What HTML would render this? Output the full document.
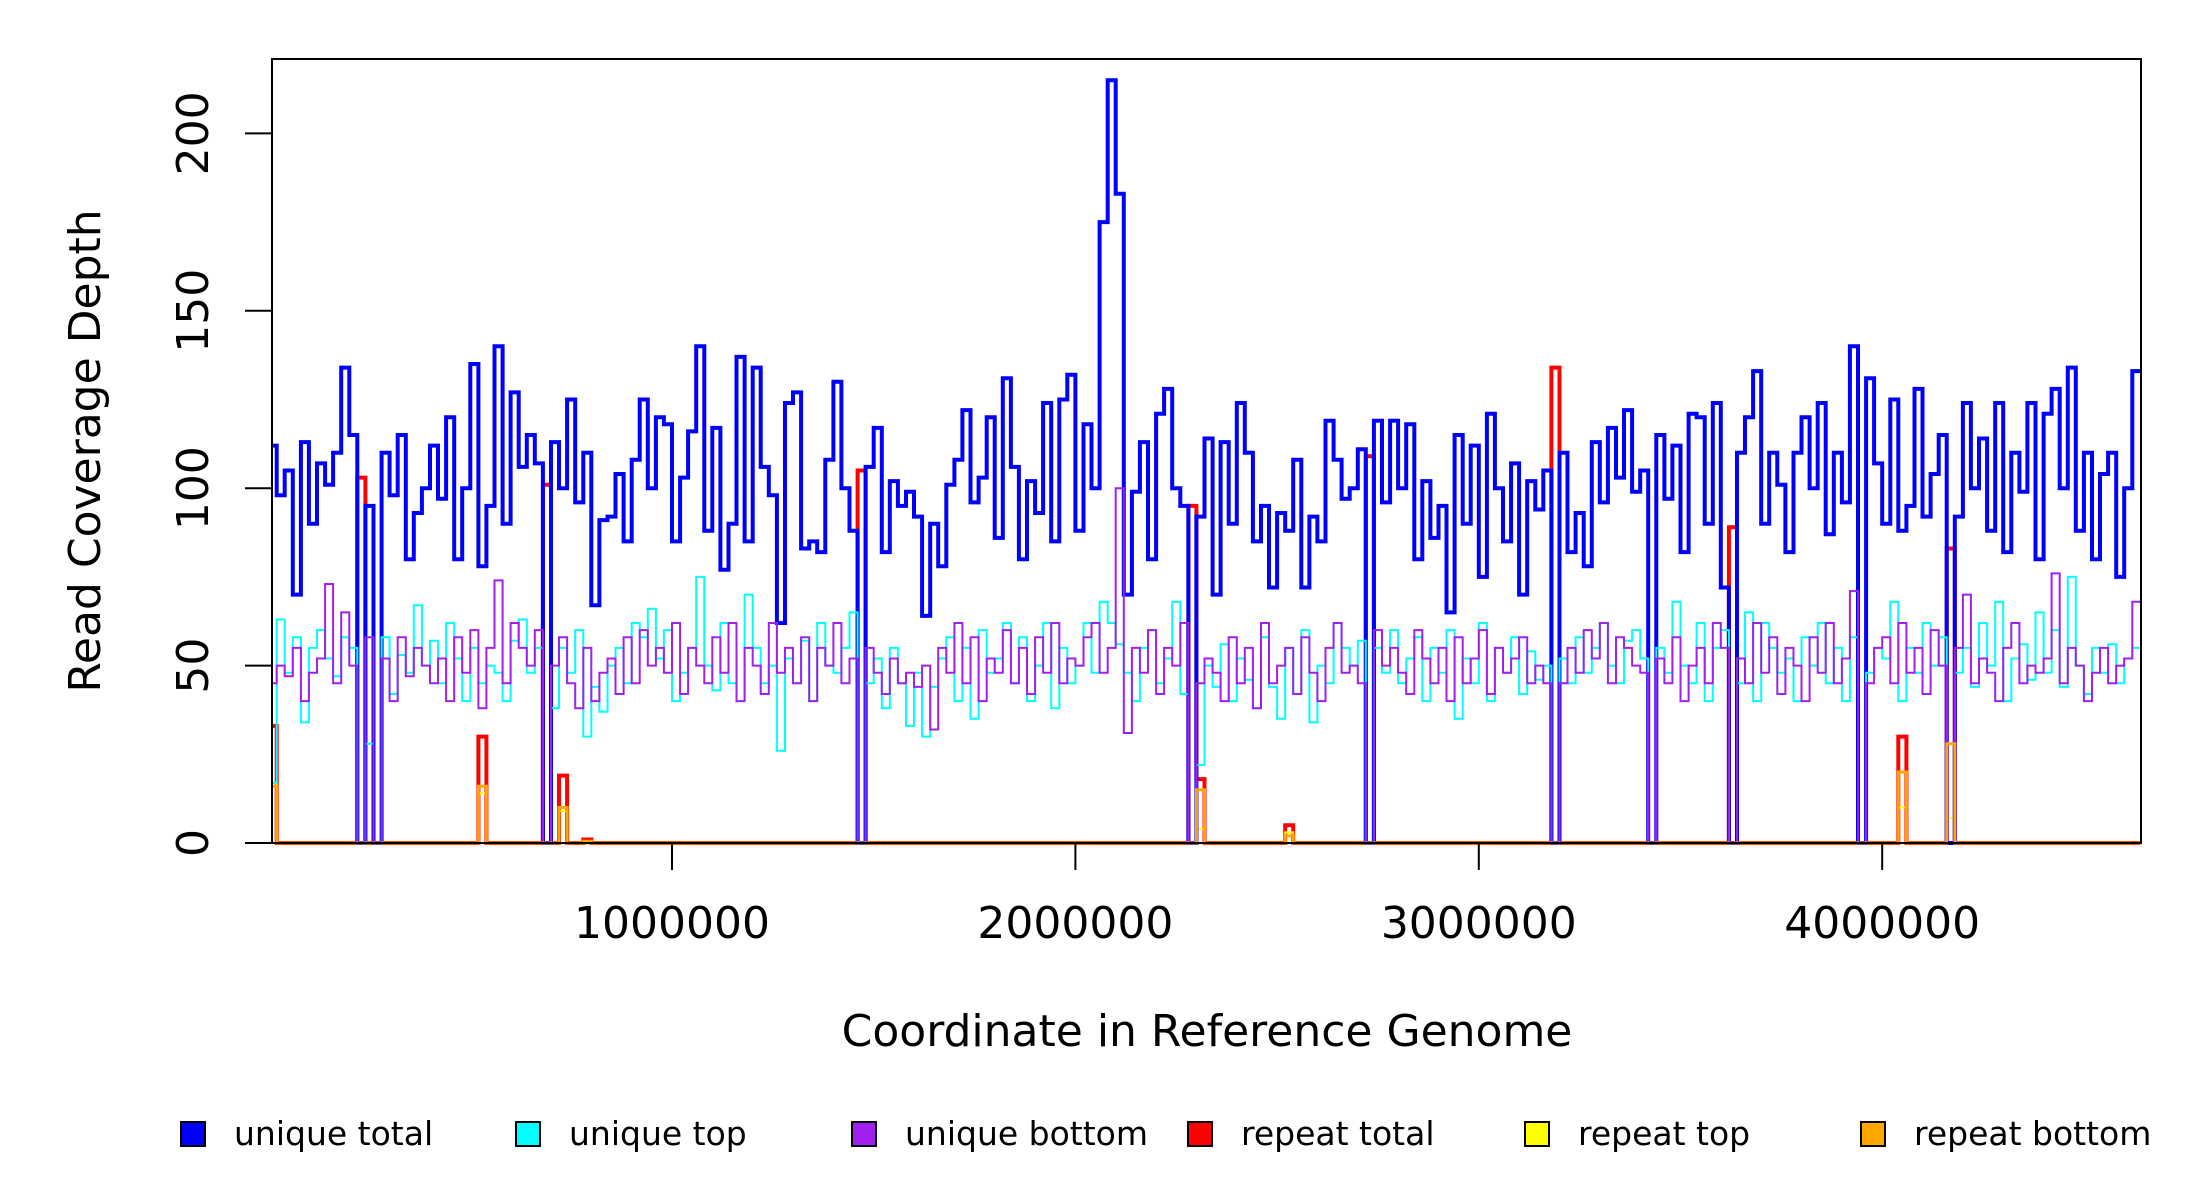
<!DOCTYPE html>
<html><head><meta charset="utf-8"><style>
html,body{margin:0;padding:0;background:#fff;}
svg{display:block;font-family:"DejaVu Sans","Liberation Sans",sans-serif;}
</style></head><body>
<svg id="chart" width="2200" height="1200" viewBox="0 0 2200 1200" xmlns="http://www.w3.org/2000/svg">
<defs><clipPath id="plotclip"><rect x="272" y="58" width="1869" height="787"/></clipPath></defs>
<g id="series" clip-path="url(#plotclip)"></g>
<rect x="272" y="59" width="1869" height="784" fill="none" stroke="#000" stroke-width="2"/>
<g id="yaxis"></g>
<g id="xaxis"></g>
<text x="0" y="0" transform="translate(100,451) rotate(-90)" text-anchor="middle" font-size="44">Read Coverage Depth</text>
<text x="1207" y="1046" text-anchor="middle" font-size="44">Coordinate in Reference Genome</text>
<g id="legend"></g>
</svg>
<script>
const binSize = 20000;
const yTicks = [0, 50, 100, 150, 200];
const xTicks = [1000000, 2000000, 3000000, 4000000];
const xTickLabels = ["1000000", "2000000", "3000000", "4000000"];
const uniqueTotal = [112,98,105,70,113,90,107,101,110,134,115,0,95,0,110,98,115,80,93,100,
112,97,120,80,100,135,78,95,140,90,127,106,115,107,0,113,100,125,96,110,
67,91,92,104,85,108,125,100,120,118,85,103,116,140,88,117,77,90,137,85,
134,106,98,62,124,127,83,85,82,108,130,100,88,0,106,117,82,102,95,99,
92,64,90,78,101,108,122,96,103,120,86,131,106,80,102,93,124,85,125,132,
88,118,100,175,215,183,70,99,113,80,121,128,100,95,0,92,114,70,113,90,
124,110,85,95,72,93,88,108,72,92,85,119,108,97,100,111,0,119,96,119,
100,118,80,102,86,95,65,115,90,112,75,121,100,85,107,70,102,94,105,0,
110,82,93,78,113,96,117,103,122,99,105,0,115,97,112,82,121,120,90,124,
72,0,110,120,133,90,110,101,82,110,120,100,124,87,110,96,140,0,131,107,
90,125,88,95,128,92,104,115,0,92,124,100,114,88,124,82,110,99,124,80,
121,128,100,134,88,110,80,104,110,75,100,133];
const uniqueTop = [17,63,48,58,34,55,60,52,47,58,55,0,28,0,58,42,53,48,67,50,
57,45,62,52,40,55,45,50,48,40,57,63,48,55,0,38,55,48,60,30,
44,37,50,55,45,62,58,66,52,60,40,48,55,75,50,43,62,45,40,70,
55,45,50,26,52,45,57,40,62,50,48,55,65,0,45,52,38,55,45,33,
48,30,44,52,58,40,55,35,60,48,52,62,45,58,40,50,62,38,55,45,
50,62,48,68,62,56,48,40,55,60,45,52,68,42,0,22,50,44,56,40,
52,46,38,58,44,35,55,42,60,34,50,45,62,55,50,57,0,55,48,60,
45,52,58,40,55,48,60,35,52,45,62,40,55,48,58,42,54,46,50,0,
52,45,58,48,55,62,50,45,57,60,52,0,55,48,68,50,45,62,40,55,
60,0,45,65,40,62,55,48,52,40,58,50,62,45,55,40,58,0,48,55,
52,68,40,55,48,62,50,58,0,48,55,44,62,50,68,40,52,56,46,65,
48,60,44,75,50,42,55,48,56,45,52,55];
const uniqueBottom = [45,50,47,55,40,48,52,73,45,65,50,0,58,0,52,40,58,47,55,50,
45,52,40,58,48,60,38,55,74,45,62,55,50,60,0,50,58,45,38,55,
40,48,52,42,58,45,60,50,55,48,62,42,55,50,45,58,48,62,40,55,
50,42,62,48,55,45,58,40,55,50,62,45,52,0,55,48,42,52,45,48,
44,50,32,55,48,62,45,58,40,52,48,60,45,55,42,58,48,62,45,52,
50,58,62,48,55,100,31,55,48,60,42,55,50,62,0,45,52,48,40,58,
45,55,38,62,45,50,55,42,58,48,40,55,62,48,50,45,0,60,50,55,
48,42,60,52,45,55,40,58,45,52,60,42,55,48,52,58,45,50,45,0,
45,55,48,60,52,62,45,58,55,50,48,0,52,45,58,40,50,55,45,62,
55,0,52,45,62,48,58,42,55,50,40,58,48,62,45,52,71,0,45,55,
58,45,62,48,55,42,60,50,0,55,70,45,52,48,40,55,62,45,50,48,
52,76,45,55,50,40,48,55,45,50,52,68];
const repeatBins = [0,11,26,34,36,39,73,114,115,126,136,159,181,202,208];
const repeatTotal = [33,103,30,101,19,1,105,95,18,5,109,134,89,30,83];
const repeatTop = [17,0,14,0,9,0.5,0,0,4,3,0,0,0,10,7];
const repeatBottom = [16,0,16,0,10,0.5,0,0,15,2,0,0,0,20,28];

const NS = "http://www.w3.org/2000/svg";
const X0 = 268.6, PXPERBP = 403.4e-6, Y0 = 843, PXPERUNIT = 3.548;
function xScale(g){ return X0 + g * PXPERBP; }
function yScale(v){ return Y0 - v * PXPERUNIT; }
function expand(vals){
  const out = new Array(uniqueTotal.length).fill(0);
  repeatBins.forEach((b,i)=>{ out[b] = vals[i]; });
  return out;
}
function stepPath(vals){
  let d = "M" + xScale(0).toFixed(1) + "," + yScale(vals[0]).toFixed(1);
  for (let i = 0; i < vals.length; i++){
    const xe = xScale((i+1)*binSize);
    d += "H" + xe.toFixed(1);
    if (i+1 < vals.length) d += "V" + yScale(vals[i+1]).toFixed(1);
  }
  return d;
}
const seriesLayer = document.getElementById("series");
function addSeries(vals, color, width, name){
  const p = document.createElementNS(NS, "path");
  p.setAttribute("d", stepPath(vals));
  p.setAttribute("fill", "none");
  p.setAttribute("stroke", color);
  p.setAttribute("stroke-width", width);
  p.setAttribute("stroke-linejoin", "miter");
  
  
  seriesLayer.appendChild(p);
}
addSeries(expand(repeatTotal), "#ff0000", 4, "repeat-total-line");
addSeries(expand(repeatTop), "#ffff00", 2, "repeat-top-line");
addSeries(uniqueTotal, "#0000ff", 4, "unique-total-line");
addSeries(uniqueTop, "#00ffff", 2, "unique-top-line");
addSeries(uniqueBottom, "#a020f0", 2, "unique-bottom-line");
addSeries(expand(repeatBottom), "#ffa500", 3, "repeat-bottom-line");

const yAxis = document.getElementById("yaxis");
yTicks.forEach(v=>{
  const y = yScale(v);
  const l = document.createElementNS(NS, "line");
  l.setAttribute("x1", 245); l.setAttribute("x2", 272);
  l.setAttribute("y1", y); l.setAttribute("y2", y);
  l.setAttribute("stroke", "#000"); l.setAttribute("stroke-width", 2);
  
  
  yAxis.appendChild(l);
  const t = document.createElementNS(NS, "text");
  t.setAttribute("transform", "translate(208," + y + ") rotate(-90)");
  t.setAttribute("text-anchor", "middle");
  t.setAttribute("font-size", "44");
  t.textContent = String(v);
  
  
  yAxis.appendChild(t);
});
const xAxis = document.getElementById("xaxis");
xTicks.forEach((g,i)=>{
  const x = xScale(g);
  const l = document.createElementNS(NS, "line");
  l.setAttribute("x1", x); l.setAttribute("x2", x);
  l.setAttribute("y1", 843); l.setAttribute("y2", 870);
  l.setAttribute("stroke", "#000"); l.setAttribute("stroke-width", 2);
  
  
  xAxis.appendChild(l);
  const t = document.createElementNS(NS, "text");
  t.setAttribute("x", x); t.setAttribute("y", 938);
  t.setAttribute("text-anchor", "middle");
  t.setAttribute("font-size", "44");
  t.textContent = xTickLabels[i];
  
  
  xAxis.appendChild(t);
});
const legendLabels = ["unique total","unique top","unique bottom","repeat total","repeat top","repeat bottom"];
const legendColors = ["#0000ff","#00ffff","#a020f0","#ff0000","#ffff00","#ffa500"];
const legendX = [181,516,852,1188,1525,1861];
const legend = document.getElementById("legend");
legendLabels.forEach((lab,i)=>{
  const r = document.createElementNS(NS, "rect");
  r.setAttribute("x", legendX[i]); r.setAttribute("y", 1122);
  r.setAttribute("width", 24); r.setAttribute("height", 24);
  r.setAttribute("fill", legendColors[i]); r.setAttribute("stroke", "#000"); r.setAttribute("stroke-width", 2);
  
  
  legend.appendChild(r);
  const t = document.createElementNS(NS, "text");
  t.setAttribute("x", legendX[i] + 53); t.setAttribute("y", 1145);
  t.setAttribute("font-size", "33");
  t.textContent = lab;
  
  
  legend.appendChild(t);
});
</script>
</body></html>
